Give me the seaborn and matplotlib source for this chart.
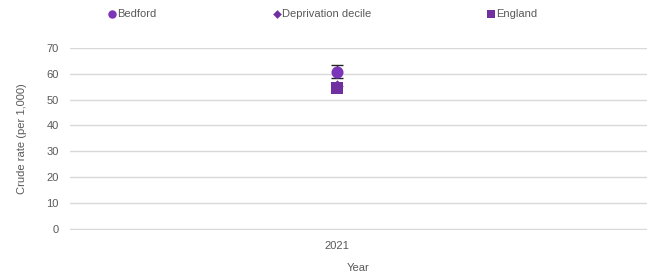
import numpy as np
import pandas as pd
import seaborn as sns
import matplotlib.pyplot as plt

# data
years = ["2021"]
series = ["Bedford", "Deprivation decile", "England"]
bedford = [60.8]
bedford_lo = [58.3]
bedford_hi = [63.3]
deprivation = [55.4]
england = [54.3]

colours = {"Bedford": "#7b35b8", "Deprivation decile": "#7030a0", "England": "#7030a0"}
markers = {"Bedford": "o", "Deprivation decile": "D", "England": "s"}
sizes = {"Bedford": 75, "Deprivation decile": 40, "England": 75}

df = pd.DataFrame({
    "Year": years * 3,
    "x": [0] * 3,
    "series": series,
    "value": bedford + deprivation + england,
})

sns.set_theme(style="white")
plt.rcParams["font.family"] = ["Liberation Sans", "DejaVu Sans"]
grey = "#595959"

fig, ax = plt.subplots(figsize=(6.47, 2.8), dpi=100)
fig.subplots_adjust(left=0.108, right=1.0, bottom=0.179, top=0.829)

# error bar for Bedford
ax.errorbar([0], bedford, yerr=[[bedford[0] - bedford_lo[0]], [bedford_hi[0] - bedford[0]]],
            fmt="none", ecolor="#222222", elinewidth=1, capsize=4, capthick=1, zorder=2)

for s in ["Deprivation decile", "England", "Bedford"]:
    sub = df[df["series"] == s]
    sns.scatterplot(data=sub, x="x", y="value", marker=markers[s], color=colours[s],
                    s=sizes[s], edgecolor=colours[s], linewidth=0, ax=ax, zorder=3, label=s)

ax.set_xlim(-0.463, 0.537)
ax.set_ylim(-0.4, 70)
ax.set_yticks(np.arange(0, 71, 10))
ax.set_xticks([0])
ax.set_xticklabels(years)
ax.grid(axis="y", color="#d9d9d9", linewidth=1)
ax.set_axisbelow(True)
for sp in ax.spines.values():
    sp.set_visible(False)
ax.tick_params(axis="both", colors=grey, labelsize=8, length=0, pad=8)
ax.set_xlabel("Year", color=grey, fontsize=8, labelpad=9)
ax.set_ylabel("Crude rate (per 1,000)", color=grey, fontsize=8, labelpad=14)

handles, labels = ax.get_legend_handles_labels()
order = [labels.index(s) for s in series]
ax.get_legend().remove()
leg = fig.legend([handles[i] for i in order], [labels[i] for i in order], loc="upper left",
                 bbox_to_anchor=(0.153, 1.003), ncol=3, frameon=False, fontsize=8,
                 handlelength=0.6, handletextpad=0.15, columnspacing=10.5, markerscale=0.7)
for t in leg.get_texts():
    t.set_color(grey)

fig.savefig("out.png", dpi=100)
